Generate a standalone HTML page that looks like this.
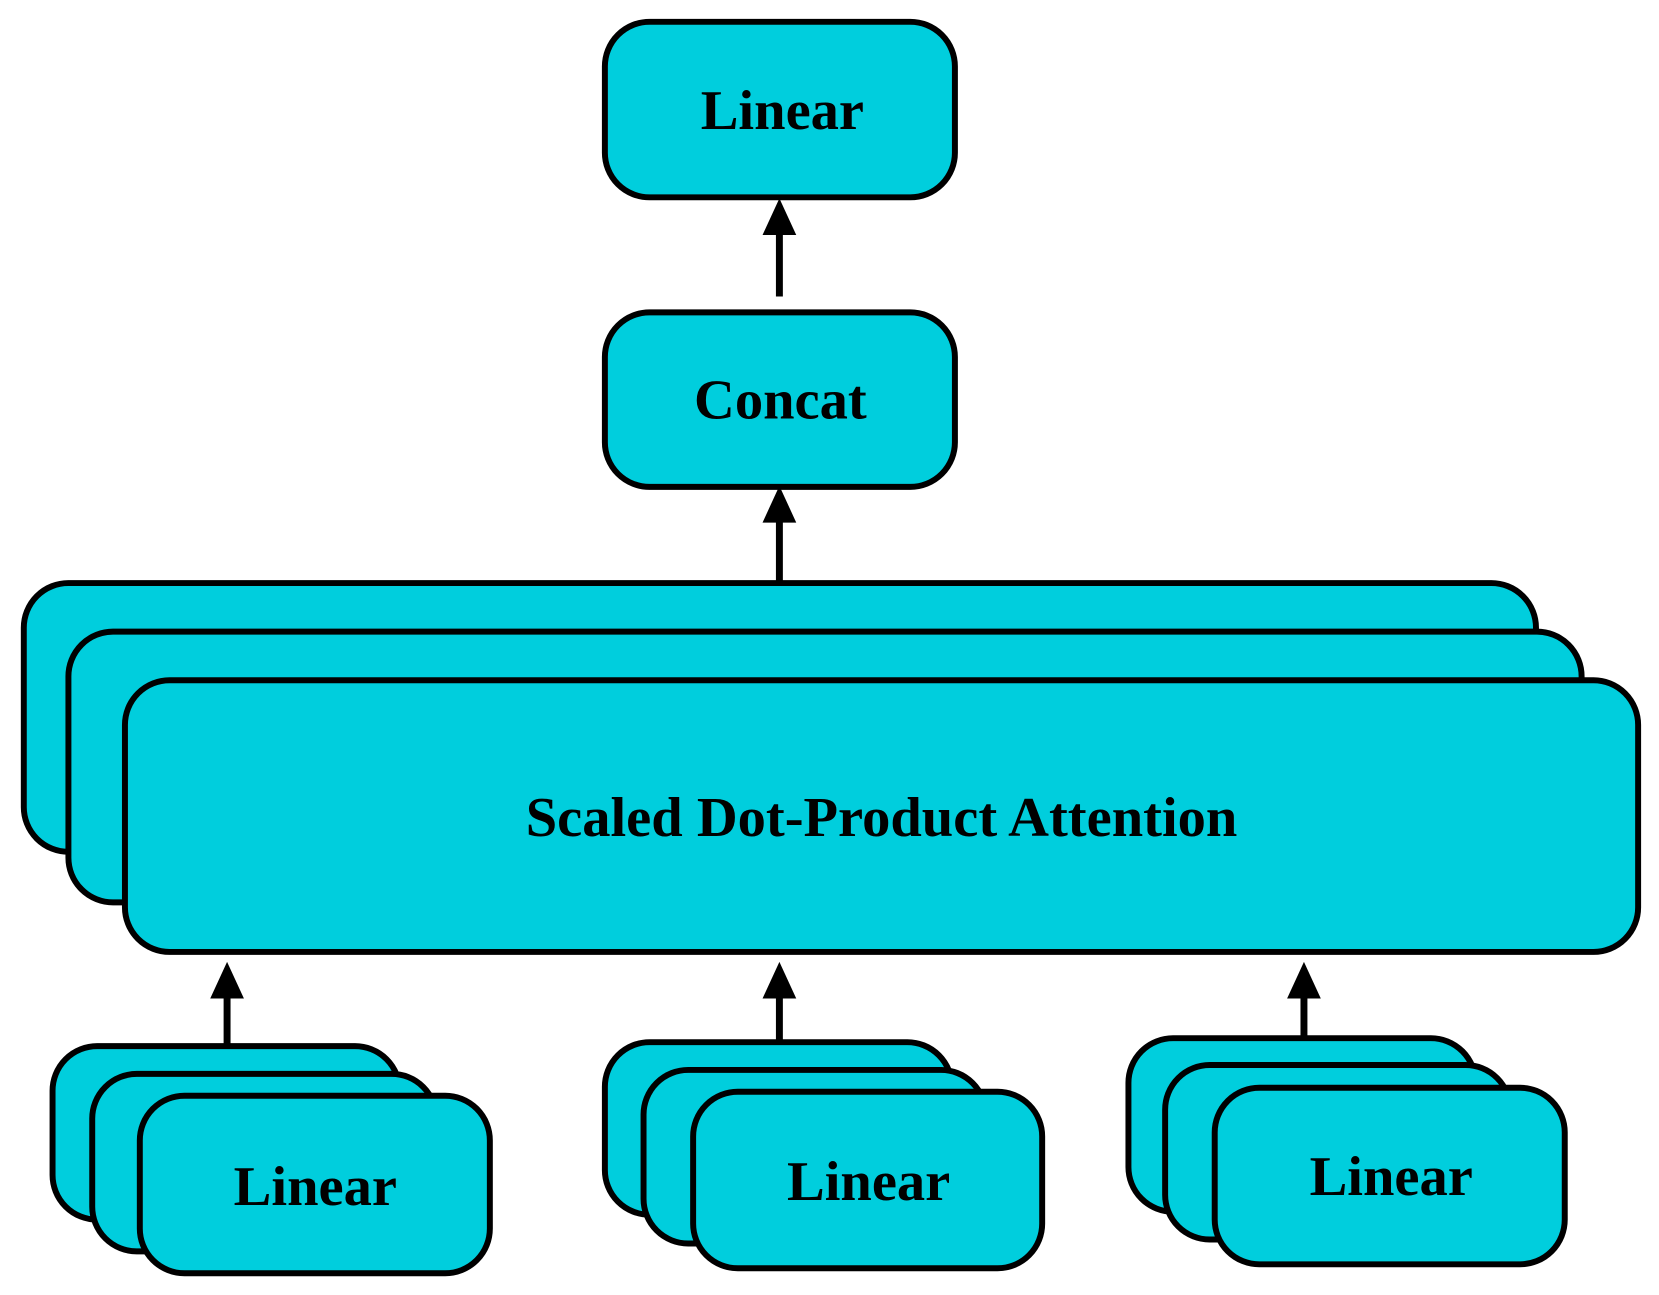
<!DOCTYPE html>
<html><head><meta charset="utf-8"><style>html,body{margin:0;padding:0;background:#fff}svg{display:block}</style></head>
<body>
<svg width="1659" height="1295" viewBox="0 0 1659 1295" xmlns="http://www.w3.org/2000/svg">
<g transform="scale(0.9916)">
<g fill="#00CEDD" stroke="#000" stroke-width="6">
<rect x="610" y="22" width="353" height="177" rx="45"/>
<rect x="610" y="315" width="353" height="176" rx="45"/>
<rect x="24" y="588" width="1525" height="271" rx="45"/>
<rect x="69" y="637" width="1526" height="273" rx="45"/>
<rect x="126" y="686" width="1526" height="274" rx="45"/>
<rect x="53" y="1055" width="350" height="175" rx="45"/>
<rect x="93" y="1083" width="347" height="179" rx="45"/>
<rect x="141" y="1105" width="353" height="179" rx="45"/>
<rect x="610" y="1051" width="350" height="174" rx="45"/>
<rect x="649" y="1079" width="345" height="175" rx="45"/>
<rect x="699" y="1101" width="352" height="178" rx="45"/>
<rect x="1138" y="1047" width="350" height="175" rx="45"/>
<rect x="1175" y="1074" width="348" height="176" rx="45"/>
<rect x="1225" y="1097" width="353" height="178" rx="45"/>
</g>
<g stroke="#000" stroke-width="7">
<line x1="786" y1="299" x2="786" y2="230"/>
<line x1="786" y1="590" x2="786" y2="520"/>
<line x1="229" y1="1056" x2="229" y2="1000"/>
<line x1="786" y1="1053" x2="786" y2="1000"/>
<line x1="1315" y1="1049" x2="1315" y2="1000"/>
</g>
<g fill="#000">
<polygon points="786,200 769,237 803,237"/>
<polygon points="786,490 769,527 803,527"/>
<polygon points="229,970 212,1007 246,1007"/>
<polygon points="786,970 769,1007 803,1007"/>
<polygon points="1315,970 1298,1007 1332,1007"/>
</g>
<g font-family="'Liberation Serif',serif" font-weight="bold" font-size="57" text-anchor="middle" fill="#000">
<text x="789" y="130">Linear</text>
<text x="787" y="422">Concat</text>
<text x="889" y="843">Scaled Dot-Product Attention</text>
<text x="318" y="1215">Linear</text>
<text x="876" y="1210">Linear</text>
<text x="1403" y="1205">Linear</text>
</g>
</g>
</svg>
</body></html>
